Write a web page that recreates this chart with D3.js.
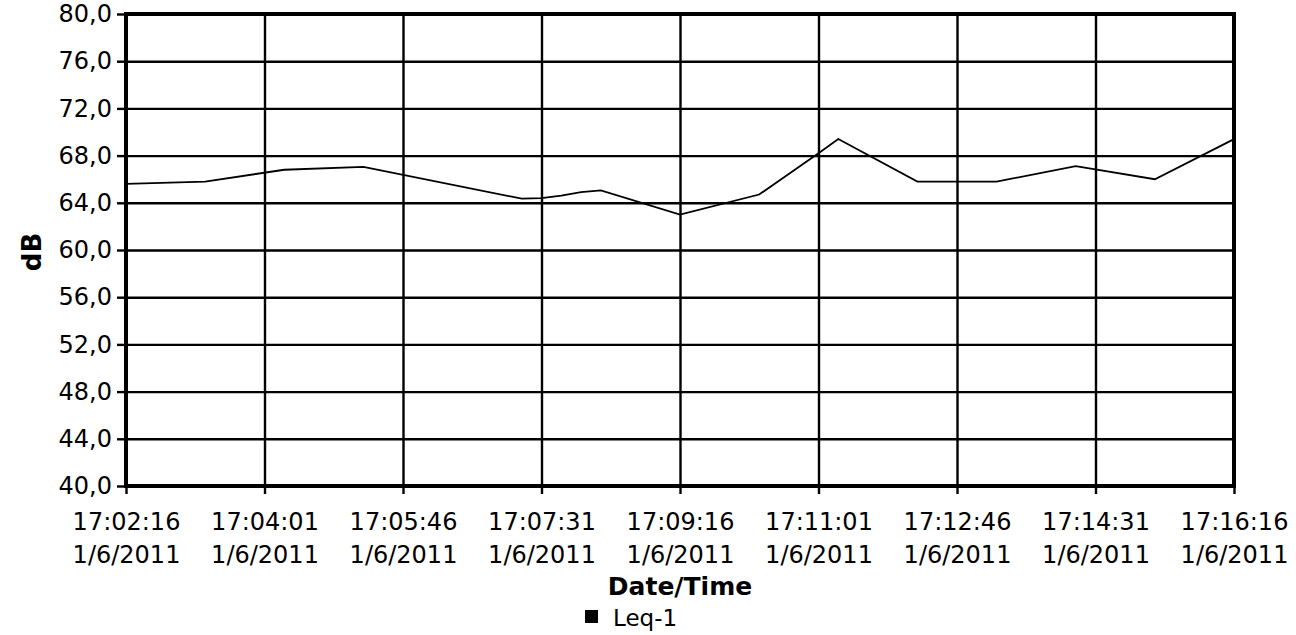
<!DOCTYPE html>
<html>
<head>
<meta charset="utf-8">
<script src="https://cdn.jsdelivr.net/npm/d3@7"></script>
<style>
  html, body { margin: 0; padding: 0; background: #fff; }
  svg { display: block; }
  text { font-family: "DejaVu Sans", Verdana, sans-serif; fill: #000; }
</style>
</head>
<body>
<svg id="chart" width="1296" height="635"></svg>
<script>
// ---- data ----
const dateLabel = "1/6/2011";
const times = ["17:02:16","17:03:16","17:04:16","17:05:16","17:07:16","17:07:31","17:07:46","17:08:01","17:08:16","17:09:16","17:10:16","17:11:01","17:11:16","17:12:16","17:13:16","17:14:16","17:15:16","17:16:16"];
const leq1 = [65.6,65.8,66.8,67.05,64.35,64.4,64.6,64.9,65.05,63.0,64.7,68.2,69.4,65.8,65.8,67.1,66.0,69.4];
const xTickLabels = ["17:02:16","17:04:01","17:05:46","17:07:31","17:09:16","17:11:01","17:12:46","17:14:31","17:16:16"];
const yTicks = [40,44,48,52,56,60,64,68,72,76,80];
const yDomain = [40, 80];
const seriesName = "Leq-1";
const xTitle = "Date/Time";
const yTitle = "dB";

// ---- layout ----
const M = { left: 126, top: 14, right: 1234, bottom: 486 };
const W = M.right - M.left, H = M.bottom - M.top;

const parse = d3.timeParse("%H:%M:%S");
const svg = d3.select("#chart");
const g = svg.append("g").attr("transform", `translate(${M.left},${M.top})`);

const xTickDates = xTickLabels.map(parse);
const x = d3.scaleTime().domain([xTickDates[0], xTickDates[xTickDates.length - 1]]).range([0, W]);
const y = d3.scaleLinear().domain(yDomain).range([H, 0]);

// grid lines
g.append("g").attr("class", "ygrid")
  .call(d3.axisLeft(y).tickValues(yTicks).tickSize(-W).tickFormat(""))
  .call(s => s.select(".domain").remove())
  .selectAll("line").attr("stroke", "#000").attr("stroke-width", 2.4);
g.append("g").attr("class", "xgrid")
  .call(d3.axisBottom(x).tickValues(xTickDates).tickSize(H).tickFormat(""))
  .call(s => s.select(".domain").remove())
  .selectAll("line").attr("stroke", "#000").attr("stroke-width", 2.4);

// y axis ticks & labels
const yAx = g.append("g")
  .call(d3.axisLeft(y).tickValues(yTicks).tickSize(9).tickPadding(5)
    .tickFormat(d => d.toFixed(1).replace(".", ",")));
yAx.select(".domain").remove();
yAx.selectAll("line").attr("stroke", "#000").attr("stroke-width", 2.4);
yAx.selectAll("text").attr("font-size", 24).attr("font-family", "DejaVu Sans").attr("fill", "#000");

// x axis ticks & two-line labels
const xAx = g.append("g").attr("transform", `translate(0,${H})`)
  .call(d3.axisBottom(x).tickValues(xTickDates).tickSize(8).tickFormat(""));
xAx.select(".domain").remove();
xAx.selectAll("line").attr("stroke", "#000").attr("stroke-width", 2.4);
xAx.selectAll(".tick").each(function(d, i) {
  const t = d3.select(this).append("text")
    .attr("text-anchor", "middle").attr("font-size", 24).attr("fill", "#000");
  t.append("tspan").attr("x", 0).attr("y", 44).text(xTickLabels[i]);
  t.append("tspan").attr("x", 0).attr("y", 77).text(dateLabel);
});

// frame
g.append("rect").attr("x", 0).attr("y", 0).attr("width", W).attr("height", H)
  .attr("fill", "none").attr("stroke", "#000").attr("stroke-width", 4);

// line
const pts = times.map((t, i) => ({ t: parse(t), v: leq1[i] }));
g.append("path").datum(pts)
  .attr("fill", "none").attr("stroke", "#000").attr("stroke-width", 1.8)
  .attr("d", d3.line().x(d => x(d.t)).y(d => y(d.v)));

// titles
svg.append("text").attr("x", (M.left + M.right) / 2).attr("y", 595)
  .attr("text-anchor", "middle").attr("font-size", 25).attr("font-weight", "bold").text(xTitle);
svg.append("text").attr("transform", `translate(41,${(M.top + M.bottom) / 2 + 2}) rotate(-90)`)
  .attr("text-anchor", "middle").attr("font-size", 26).attr("font-weight", "bold").text(yTitle);

// legend
const lg = svg.append("g").attr("transform", "translate(585,610)");
lg.append("rect").attr("width", 13).attr("height", 13).attr("fill", "#000");
lg.append("text").attr("x", 28).attr("y", 16).attr("font-size", 23).text(seriesName);
</script>
</body>
</html>
